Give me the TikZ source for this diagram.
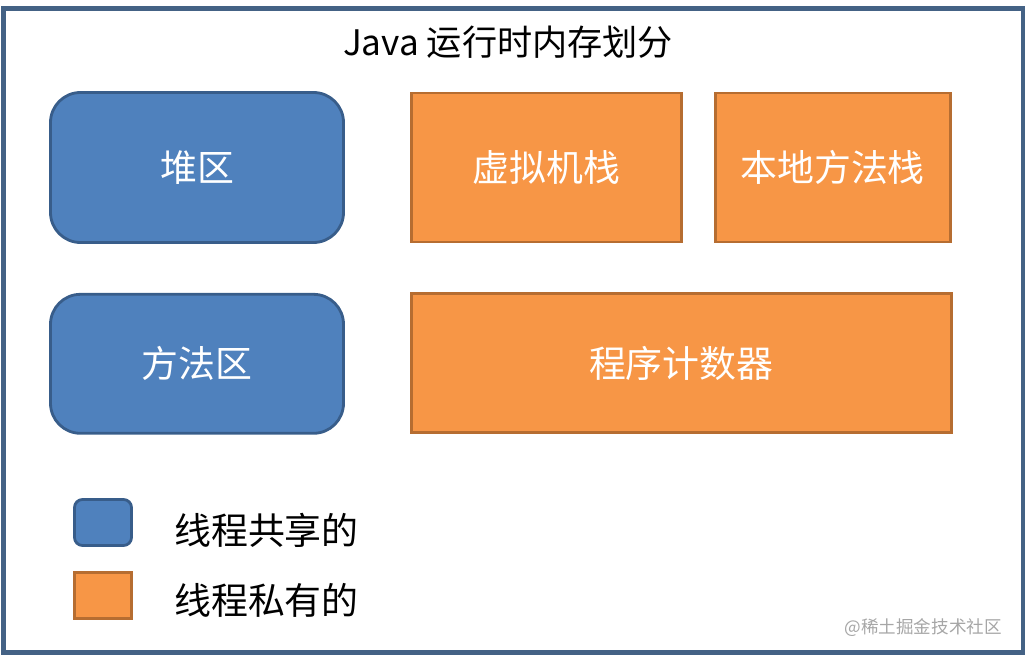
\documentclass[tikz,border=0pt]{standalone}
\usepackage{fontspec}
\setmainfont{Noto Sans CJK SC}
\usepackage{xcolor}
\definecolor{sharedblue}{RGB}{79, 129, 189}
\definecolor{sharededge}{RGB}{56, 93, 138}
\definecolor{privateorange}{RGB}{247, 150, 70}
\definecolor{privateedge}{RGB}{182, 109, 49}
\definecolor{frameblue}{RGB}{68, 98, 133}
\usetikzlibrary{positioning}

\begin{document}
\begin{tikzpicture}[
        shared/.style={rectangle, draw=sharededge, fill=sharedblue, line width=1.6pt,
                    minimum width=5.86cm, rounded corners=0.6cm, text=white,
                    font=\fontsize{21}{25}\selectfont},
        private/.style={rectangle, draw=privateedge, fill=privateorange, line width=1.6pt,
                    text=white, font=\fontsize{21}{25}\selectfont},
        keybox/.style={rectangle, line width=1.6pt, minimum width=1.14cm, minimum height=0.92cm},
        keytext/.style={anchor=west, font=\fontsize{21}{25}\selectfont}
    ]
        \useasboundingbox (0,0) rectangle (20.52,-13.14);
        \draw[frameblue, line width=2.4pt] (0.07,-0.17) rectangle (20.46,-13.05);

        % Title
        \node (title) at (10.16,-0.84) {\fontsize{20}{24}\selectfont Java 运行时内存划分};

        % Shared areas
        \node[shared, minimum height=3.0cm] (heap) at (3.94,-3.35) {堆区};
        \node[shared, minimum height=2.78cm, below=0.98cm of heap] (method) {方法区};

        % Private areas
        \node[private, minimum width=5.40cm, minimum height=2.98cm, right=1.30cm of heap] (vmstack) {虚拟机栈};
        \node[private, minimum width=4.70cm, minimum height=2.98cm, right=0.62cm of vmstack] (nativestack) {本地方法栈};
        \node[private, minimum width=10.80cm, minimum height=2.78cm,
              below=0.98cm of vmstack.south west, anchor=north west] (pc) {程序计数器};

        % Legend
        \node[keybox, draw=sharededge, fill=sharedblue, rounded corners=0.16cm] (keyshared) at (2.06,-10.45) {};
        \node[keybox, draw=privateedge, fill=privateorange, below=0.48cm of keyshared] (keyprivate) {};
        \node[keytext] (sharedlabel) at (3.36,-10.6) {线程共享的};
        \node[keytext] (privatelabel) at (3.36,-12.0) {线程私有的};

        % Watermark
        \node[anchor=east, text=gray!70, font=\fontsize{10}{12}\selectfont] (mark) at (20.16,-12.56) {@稀土掘金技术社区};
    \end{tikzpicture}
\end{document}
